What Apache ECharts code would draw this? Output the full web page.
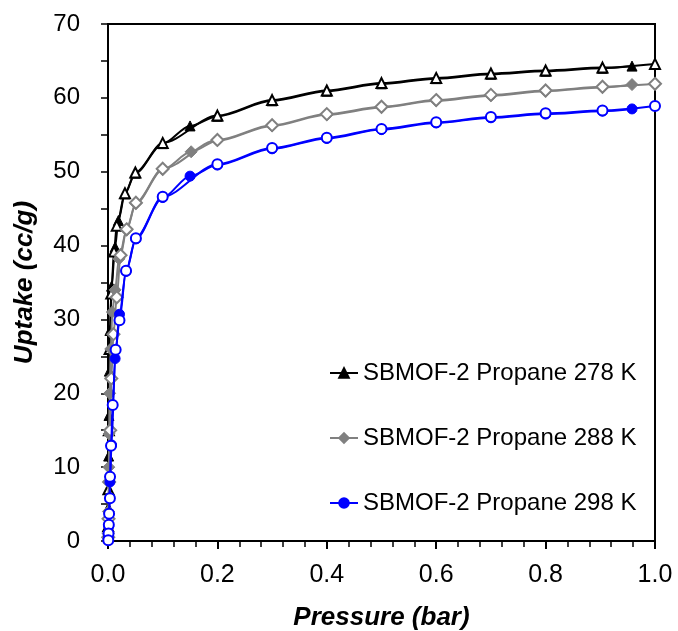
<!DOCTYPE html>
<html>
<head>
<meta charset="utf-8">
<script src="https://cdn.jsdelivr.net/npm/echarts@6/dist/echarts.min.js"></script>
<style>html,body{margin:0;padding:0;background:#fff;}#c{width:678px;height:631px;}</style>
</head>
<body>
<div id="c"></div>
<script>
// Series names
const names = ['SBMOF-2 Propane 278 K', 'SBMOF-2 Propane 288 K', 'SBMOF-2 Propane 298 K'];
// Adsorption (filled markers) [pressure bar, uptake cc/g]
const ads278 = [[0.0002,0.8],[0.0006,4.5],[0.0012,11.5],[0.0018,17],[0.0025,23],[0.0035,28.5],[0.0065,34.5],[0.013,39.8],[0.019,43.4],[0.031,47.0],[0.05,49.8],[0.1,53.8],[0.15,56.2],[0.2,57.5],[0.3,59.6],[0.4,60.9],[0.5,61.9],[0.6,62.6],[0.7,63.2],[0.8,63.6],[0.904,64.0],[0.958,64.3]];
const ads288 = [[0.0003,1],[0.0008,4],[0.0015,10],[0.002,14.5],[0.003,20],[0.005,26],[0.008,31],[0.013,34],[0.02,38.2],[0.034,42.1],[0.051,45.7],[0.1,50.3],[0.152,52.7],[0.2,54.2],[0.3,56.2],[0.4,57.7],[0.5,58.7],[0.6,59.6],[0.7,60.3],[0.8,60.9],[0.904,61.4],[0.958,61.8]];
const ads298 = [[0.0005,0.3],[0.0013,2],[0.0035,8],[0.0065,13],[0.013,24.7],[0.021,30.7],[0.033,36.5],[0.051,40.9],[0.1,46.5],[0.15,49.4],[0.2,50.9],[0.3,53.1],[0.4,54.5],[0.5,55.7],[0.6,56.6],[0.7,57.3],[0.8,57.8],[0.904,58.2],[0.958,58.5]];
// Desorption (open markers)
const des278 = [[1.0,64.6],[0.904,64.1],[0.8,63.7],[0.7,63.3],[0.6,62.7],[0.5,62.0],[0.4,61.0],[0.3,59.7],[0.2,57.6],[0.1,53.9],[0.05,49.9],[0.031,47.1],[0.016,42.7],[0.011,39.2],[0.006,33.5],[0.003,26],[0.0015,15],[0.0008,7],[0.0003,2]];
const des288 = [[1.0,61.9],[0.904,61.5],[0.8,61.0],[0.7,60.4],[0.6,59.7],[0.5,58.8],[0.4,57.8],[0.3,56.3],[0.2,54.3],[0.1,50.4],[0.051,45.8],[0.034,42.2],[0.023,38.7],[0.016,33],[0.01,28],[0.006,22],[0.004,15],[0.002,8],[0.001,3],[0.0004,0.5]];
const des298 = [[1.0,58.9],[0.904,58.3],[0.8,57.9],[0.7,57.4],[0.6,56.7],[0.5,55.8],[0.4,54.6],[0.3,53.2],[0.2,51.0],[0.1,46.6],[0.051,41.0],[0.033,36.6],[0.021,29.9],[0.014,25.9],[0.0086,18.4],[0.0055,12.9],[0.0037,8.7],[0.0035,5.8],[0.002,3.7],[0.0015,2.2],[0.001,1.0],[0.0005,0.1]];

const colors = ['#000000', '#808080', '#0000ff'];
const symbols = ['triangle', 'diamond', 'circle'];
const sizes = [10, 12, 10];
const adsAll = [ads278, ads288, ads298];
const desAll = [des278, des288, des298];
const font = 'Liberation Sans, Arial, sans-serif';

const series = [];
for (let i = 0; i < 3; i++) {
  series.push({
    name: names[i], type: 'line', data: adsAll[i],
    symbol: symbols[i], symbolSize: sizes[i], showAllSymbol: true,
    smooth: 0.3, smoothMonotone: 'x',
    lineStyle: {color: colors[i], width: 2},
    itemStyle: {color: colors[i], borderColor: colors[i], borderWidth: 1},
    z: 2 + i * 2
  });
  series.push({
    name: names[i] + ' des', type: 'line', data: desAll[i],
    symbol: symbols[i], symbolSize: sizes[i], showAllSymbol: true,
    smooth: 0.3, smoothMonotone: 'x',
    lineStyle: {color: colors[i], width: 2},
    itemStyle: {color: '#ffffff', borderColor: colors[i], borderWidth: 2},
    z: 3 + i * 2
  });
}

const chart = echarts.init(document.getElementById('c'));
chart.setOption({
  animation: false,
  backgroundColor: '#ffffff',
  grid: {left: 108, right: 23, top: 24, bottom: 90, outerBoundsMode: 'none', containLabel: false,
         show: true, borderColor: '#000', borderWidth: 2, backgroundColor: 'transparent'},
  legend: {
    data: names, orient: 'vertical', left: 324, top: 356, itemGap: 41,
    itemWidth: 28, itemHeight: 12,
    textStyle: {fontFamily: font, fontSize: 24, color: '#000'}
  },
  xAxis: {
    type: 'value', min: 0, max: 1, interval: 0.2,
    name: 'Pressure (bar)', nameLocation: 'middle', nameGap: 64,
    nameTextStyle: {fontFamily: font, fontSize: 26, fontWeight: 'bold', fontStyle: 'italic', color: '#000'},
    axisLine: {lineStyle: {color: '#000', width: 2}},
    axisTick: {show: true, inside: false, length: 8, lineStyle: {color: '#000', width: 2}},
    minorTick: {show: true, splitNumber: 5, length: 6, lineStyle: {color: '#000', width: 1.5}},
    splitLine: {show: false},
    axisLabel: {margin: 22, fontFamily: font, fontSize: 25, color: '#000', formatter: v => v.toFixed(1)}
  },
  yAxis: {
    type: 'value', min: 0, max: 70, interval: 5,
    name: 'Uptake (cc/g)', nameLocation: 'middle', nameGap: 70,
    nameTextStyle: {fontFamily: font, fontSize: 26, fontWeight: 'bold', fontStyle: 'italic', color: '#000'},
    axisLine: {show: true, lineStyle: {color: '#000', width: 2}},
    axisTick: {show: true, inside: false, length: 7, lineStyle: {color: '#000', width: 1.5}},
    splitLine: {show: false},
    axisLabel: {margin: 28, fontFamily: font, fontSize: 24, color: '#000', formatter: v => (v % 10 === 0 ? String(v) : '')}
  },
  series: series
});
</script>
</body>
</html>
